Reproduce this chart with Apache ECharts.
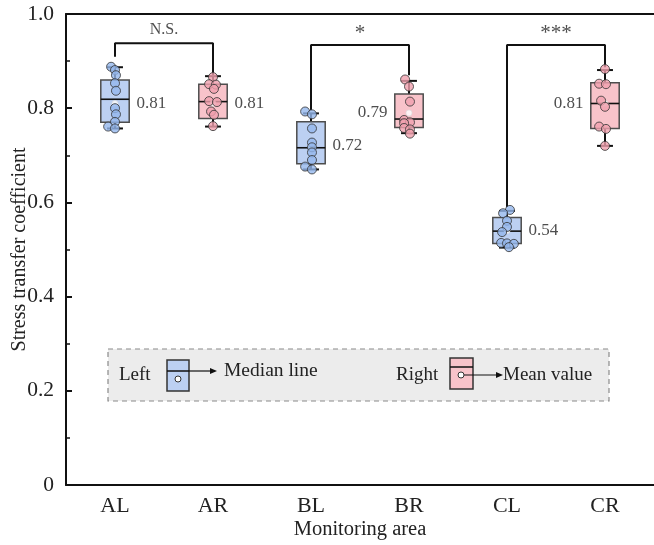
<!DOCTYPE html>
<html>
<head>
<meta charset="utf-8">
<script src="https://cdn.jsdelivr.net/npm/echarts@6/dist/echarts.min.js"></script>
<style>html,body{margin:0;padding:0;background:#fff}#c{width:654px;height:545px}</style>
</head>
<body>
<div id="c"></div>
<script>
// ---------- data ----------
const categories = ['AL', 'AR', 'BL', 'BR', 'CL', 'CR'];
const yTicks = ['0', '0.2', '0.4', '0.6', '0.8', '1.0'];
const whiskerLow  = [0.757, 0.761, 0.670, 0.747, 0.504, 0.720];
const quart1      = [0.770, 0.778, 0.682, 0.759, 0.513, 0.757];
const medians     = [0.819, 0.814, 0.716, 0.777, 0.539, 0.810];
const quart3      = [0.860, 0.851, 0.771, 0.830, 0.568, 0.854];
const whiskerHigh = [0.887, 0.868, 0.789, 0.858, 0.582, 0.881];
const meanValues  = [0.81, 0.81, 0.72, 0.79, 0.54, 0.81];
const pointsAL = [0.888, 0.881, 0.870, 0.853, 0.837, 0.800, 0.787, 0.771, 0.761, 0.757];
const pointsAR = [0.866, 0.851, 0.850, 0.841, 0.815, 0.813, 0.793, 0.786, 0.762];
const pointsBL = [0.793, 0.787, 0.757, 0.727, 0.717, 0.706, 0.690, 0.676, 0.670];
const pointsBR = [0.861, 0.846, 0.814, 0.775, 0.770, 0.768, 0.758, 0.755, 0.746];
const pointsCL = [0.584, 0.577, 0.561, 0.548, 0.537, 0.514, 0.513, 0.512, 0.505];
const pointsCR = [0.883, 0.852, 0.851, 0.816, 0.803, 0.761, 0.756, 0.720];
const jitterAL = [-0.04, 0, 0.01, 0, 0.01, 0, 0.01, 0, -0.07, 0];
const jitterAR = [0, -0.04, 0.03, 0.01, -0.04, 0.04, -0.02, 0.01, 0];
const jitterBL = [-0.06, 0.01, 0.01, 0.01, 0.01, 0.01, 0.01, -0.06, 0.01];
const jitterBR = [-0.04, 0, 0.01, -0.05, 0.01, -0.05, -0.05, 0.01, 0.01];
const jitterCL = [0.03, -0.04, 0, 0, -0.05, -0.06, 0, 0.07, 0.02];
const jitterCR = [0, -0.06, 0.01, -0.04, 0, -0.06, 0.01, 0];
const labelSide = ['right', 'right', 'right', 'left', 'right', 'left'];
const sigPairs = [[0, 1], [2, 3], [4, 5]];
const sigText = ['N.S.', '*', '***'];
const sigTop = [0.938, 0.934, 0.934];
const sigEnds = [0.909, 0.870, 0.796, 0.870, 0.590, 0.887];
const sigTextY = [0.966, 0.958, 0.958];

const allPoints = [pointsAL, pointsAR, pointsBL, pointsBR, pointsCL, pointsCR];
const allJitter = [jitterAL, jitterAR, jitterBL, jitterBR, jitterCL, jitterCR];

// ---------- style ----------
const FONT = 'Liberation Serif';
const boxFill = ['#bcd0f2', '#f8c3ca'];
const ptFill = ['#93b6ec', '#f0a0ae'];
const sigFontSize = [16, 21, 21];

const boxData = categories.map((c, i) => [i, whiskerLow[i], quart1[i], medians[i], quart3[i], whiskerHigh[i]]);

const series = [];

series.push({
  type: 'custom',
  xAxisIndex: 0,
  z: 2,
  data: boxData,
  renderItem: function (params, api) {
    const idx = api.value(0);
    const lo = api.coord([idx, api.value(1)]);
    const q1 = api.coord([idx, api.value(2)]);
    const md = api.coord([idx, api.value(3)]);
    const q3 = api.coord([idx, api.value(4)]);
    const hi = api.coord([idx, api.value(5)]);
    const band = api.size([1, 0])[0];
    const bw = band * 0.29;
    const cw = bw * 0.56;
    const cx = lo[0];
    const col = boxFill[idx % 2];
    return {
      type: 'group',
      children: [
        { type: 'line', shape: { x1: cx, y1: q3[1], x2: cx, y2: hi[1] }, style: { stroke: '#111', lineWidth: 2 } },
        { type: 'line', shape: { x1: cx, y1: q1[1], x2: cx, y2: lo[1] }, style: { stroke: '#111', lineWidth: 2 } },
        { type: 'line', shape: { x1: cx - cw / 2, y1: hi[1], x2: cx + cw / 2, y2: hi[1] }, style: { stroke: '#111', lineWidth: 2 } },
        { type: 'line', shape: { x1: cx - cw / 2, y1: lo[1], x2: cx + cw / 2, y2: lo[1] }, style: { stroke: '#111', lineWidth: 2 } },
        { type: 'rect', shape: { x: cx - bw / 2, y: q3[1], width: bw, height: q1[1] - q3[1] }, style: { fill: col, stroke: '#4d4d4d', lineWidth: 1.5 } },
        { type: 'line', shape: { x1: cx - bw / 2, y1: md[1], x2: cx + bw / 2, y2: md[1] }, style: { stroke: '#111', lineWidth: 1.6 } }
      ]
    };
  }
});

sigPairs.forEach((p, k) => {
  series.push({
    type: 'line',
    xAxisIndex: 1,
    z: 1,
    symbol: 'none',
    silent: true,
    lineStyle: { color: '#111', width: 2 },
    data: [[p[0], sigEnds[p[0]]], [p[0], sigTop[k]], [p[1], sigTop[k]], [p[1], sigEnds[p[1]]]]
  });
});

series.push({
  type: 'scatter',
  xAxisIndex: 1,
  symbolSize: 1,
  itemStyle: { color: 'rgba(0,0,0,0)' },
  data: sigPairs.map((p, k) => ({
    value: [(p[0] + p[1]) / 2, sigTextY[k]], name: sigText[k],
    label: { fontSize: sigFontSize[k] }
  })),
  label: {
    show: true, position: 'inside', formatter: p => p.name,
    fontFamily: FONT, color: '#222'
  }
});

series.push({
  type: 'scatter',
  xAxisIndex: 1,
  z: 3,
  symbol: 'circle',
  symbolSize: 6,
  itemStyle: { color: '#fff', borderColor: '#ddd', borderWidth: 0.8 },
  data: meanValues.map((v, i) => ({
    value: [i, v],
    label: { position: labelSide[i] }
  })),
  label: {
    show: true, distance: 18, formatter: p => p.value[1].toFixed(2),
    fontFamily: FONT, fontSize: 17, color: '#222'
  }
});

allPoints.forEach((arr, i) => {
  series.push({
    type: 'scatter',
    xAxisIndex: 1,
    z: 4,
    symbol: 'circle',
    symbolSize: 9,
    itemStyle: { color: ptFill[i % 2], borderColor: '#333', borderWidth: 1 },
    data: arr.map((v, j) => [i + allJitter[i][j], v])
  });
});

const chart = echarts.init(document.getElementById('c'), null, { renderer: 'canvas' });
chart.setOption({
  animation: false,
  backgroundColor: '#fff',
  grid: { left: 66, right: 0, top: 14, bottom: 60, containLabel: false, outerBoundsMode: 'none' },
  xAxis: [
    {
      type: 'category', data: categories, position: 'bottom',
      name: 'Monitoring area', nameLocation: 'middle', nameGap: 34, nameMoveOverlap: false,
      nameTextStyle: { fontFamily: FONT, fontSize: 20.5, color: '#222' },
      axisLine: { onZero: false, lineStyle: { color: '#111', width: 2 } },
      axisTick: { inside: true, alignWithLabel: true, length: 6, lineStyle: { color: '#111', width: 2 } },
      axisLabel: { fontFamily: FONT, fontSize: 22, color: '#222', margin: 10 },
      splitLine: { show: false }
    },
    {
      type: 'value', position: 'top', min: -0.5, max: 5.5,
      axisLine: { show: true, onZero: false, lineStyle: { color: '#111', width: 2 } },
      axisTick: { show: false }, axisLabel: { show: false }, splitLine: { show: false }
    }
  ],
  yAxis: {
    type: 'value', min: 0, max: 1, interval: 0.2,
    name: 'Stress transfer coefficient', nameLocation: 'middle', nameGap: 36, nameMoveOverlap: false,
    nameTextStyle: { fontFamily: FONT, fontSize: 20, color: '#222' },
    axisLine: { show: true, onZero: false, lineStyle: { color: '#111', width: 2 } },
    axisTick: { inside: true, length: 6, lineStyle: { color: '#111', width: 2 } },
    minorTick: { show: true, splitNumber: 2, length: 4, lineStyle: { color: '#111', width: 1.5 } },
    axisLabel: {
      fontFamily: FONT, fontSize: 21.5, color: '#222', margin: 12,
      formatter: v => yTicks[Math.round(v / 0.2)]
    },
    splitLine: { show: false }
  },
  graphic: [
    { type: 'rect', z: 0, shape: { x: 108, y: 349, width: 501, height: 52 },
      style: { fill: '#ececec', stroke: '#8a8a8a', lineWidth: 1.2, lineDash: [5, 4] } },
    { type: 'text', z: 5, x: 119, y: 375, style: { text: 'Left', font: '19px "Liberation Serif"', fill: '#222', textVerticalAlign: 'middle' } },
    { type: 'rect', z: 5, shape: { x: 167, y: 360, width: 22, height: 31 }, style: { fill: boxFill[0], stroke: '#333', lineWidth: 1.5 } },
    { type: 'line', z: 5, shape: { x1: 167, y1: 371, x2: 189, y2: 371 }, style: { stroke: '#111', lineWidth: 1.5 } },
    { type: 'circle', z: 6, shape: { cx: 178, cy: 379, r: 3 }, style: { fill: '#fff', stroke: '#333', lineWidth: 1 } },
    { type: 'line', z: 5, shape: { x1: 189, y1: 371, x2: 211, y2: 371 }, style: { stroke: '#111', lineWidth: 1.2 } },
    { type: 'polygon', z: 5, shape: { points: [[217, 371], [210, 368], [210, 374]] }, style: { fill: '#111' } },
    { type: 'text', z: 5, x: 224, y: 371, style: { text: 'Median line', font: '19.5px "Liberation Serif"', fill: '#222', textVerticalAlign: 'middle' } },
    { type: 'text', z: 5, x: 396, y: 375, style: { text: 'Right', font: '19px "Liberation Serif"', fill: '#222', textVerticalAlign: 'middle' } },
    { type: 'rect', z: 5, shape: { x: 450, y: 358, width: 23, height: 31 }, style: { fill: boxFill[1], stroke: '#333', lineWidth: 1.5 } },
    { type: 'line', z: 5, shape: { x1: 450, y1: 367, x2: 473, y2: 367 }, style: { stroke: '#111', lineWidth: 1.5 } },
    { type: 'circle', z: 6, shape: { cx: 461, cy: 375, r: 3 }, style: { fill: '#fff', stroke: '#333', lineWidth: 1 } },
    { type: 'line', z: 5, shape: { x1: 464, y1: 375, x2: 497, y2: 375 }, style: { stroke: '#111', lineWidth: 1.2 } },
    { type: 'polygon', z: 5, shape: { points: [[503, 375], [496, 372], [496, 378]] }, style: { fill: '#111' } },
    { type: 'text', z: 5, x: 503, y: 375, style: { text: 'Mean value', font: '19px "Liberation Serif"', fill: '#222', textVerticalAlign: 'middle' } }
  ],
  series: series
});
</script>
</body>
</html>
